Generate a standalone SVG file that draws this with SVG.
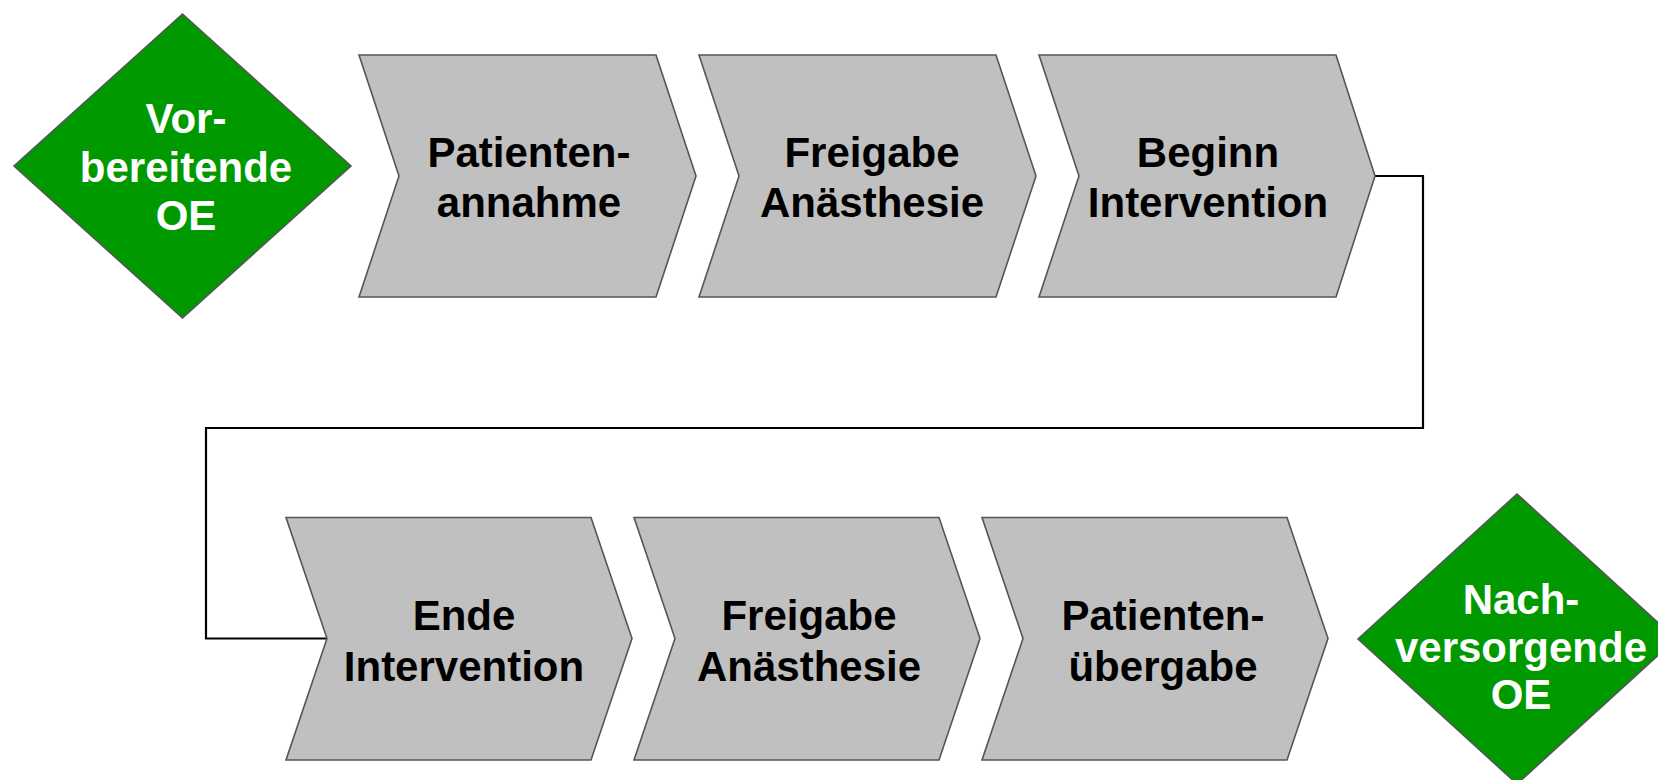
<svg xmlns="http://www.w3.org/2000/svg" width="1658" height="780" viewBox="0 0 1658 780">
  <style>
    .step { fill: #c0c0c0; stroke: #555555; stroke-width: 1.6; stroke-linejoin: miter; }
    .unit { fill: #009900; stroke: #555555; stroke-width: 1.6; }
    .flow { fill: none; stroke: #000000; stroke-width: 2.2; }
    text { font-family: "Liberation Sans", Arial, sans-serif; font-weight: bold; font-size: 42px; text-anchor: middle; }
    .dark { fill: #000000; }
    .light { fill: #ffffff; }
  </style>
  <rect x="0" y="0" width="1658" height="780" fill="#ffffff"/>

  <!-- connector from the upper row to the lower row -->
  <g id="connectors">
    <path class="flow" d="M 1375 176 H 1423 V 428 H 206 V 638.5 H 327"/>
  </g>

  <!-- start: preparing unit -->
  <g id="node-vorbereitende-oe">
    <polygon class="unit" points="182.5,14 351,166 182.5,318 14,166"/>
    <text class="light" x="186" y="133">Vor-</text>
    <text class="light" x="186" y="182">bereitende</text>
    <text class="light" x="186" y="230">OE</text>
  </g>

  <!-- upper row of process steps -->
  <g id="node-patientenannahme">
    <polygon class="step" points="359,55 656,55 696,176 656,297 359,297 399,176"/>
    <text class="dark" x="529" y="167">Patienten-</text>
    <text class="dark" x="529" y="217">annahme</text>
  </g>
  <g id="node-freigabe-anaesthesie-1">
    <polygon class="step" points="699,55 996,55 1036,176 996,297 699,297 739,176"/>
    <text class="dark" x="872" y="167">Freigabe</text>
    <text class="dark" x="872" y="217">Anästhesie</text>
  </g>
  <g id="node-beginn-intervention">
    <polygon class="step" points="1039,55 1336,55 1375,176 1336,297 1039,297 1079,176"/>
    <text class="dark" x="1208" y="167">Beginn</text>
    <text class="dark" x="1208" y="217">Intervention</text>
  </g>

  <!-- lower row of process steps -->
  <g id="node-ende-intervention">
    <polygon class="step" points="286,517.5 591,517.5 632,638.5 591,760 286,760 327,638.5"/>
    <text class="dark" x="464" y="630">Ende</text>
    <text class="dark" x="464" y="681">Intervention</text>
  </g>
  <g id="node-freigabe-anaesthesie-2">
    <polygon class="step" points="634,517.5 939,517.5 980,638.5 939,760 634,760 675,638.5"/>
    <text class="dark" x="809" y="630">Freigabe</text>
    <text class="dark" x="809" y="681">Anästhesie</text>
  </g>
  <g id="node-patientenuebergabe">
    <polygon class="step" points="982,517.5 1287,517.5 1328,638.5 1287,760 982,760 1023,638.5"/>
    <text class="dark" x="1163" y="630">Patienten-</text>
    <text class="dark" x="1163" y="681">übergabe</text>
  </g>

  <!-- end: follow-up unit -->
  <g id="node-nachversorgende-oe">
    <polygon class="unit" points="1517,494 1676,639 1517,784 1358,639"/>
    <text class="light" x="1521" y="614">Nach-</text>
    <text class="light" x="1521" y="662">versorgende</text>
    <text class="light" x="1521" y="709">OE</text>
  </g>
</svg>
